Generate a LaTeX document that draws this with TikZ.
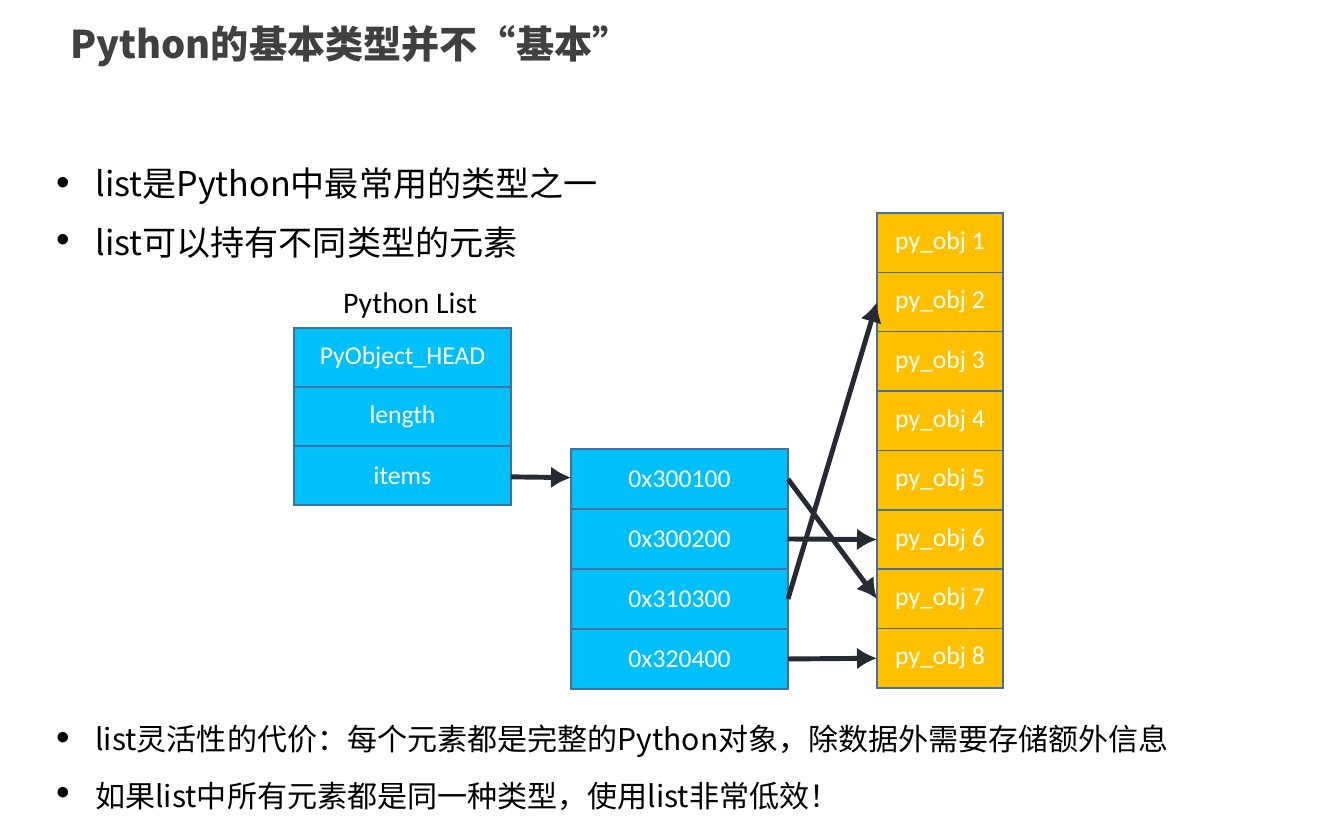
\documentclass[tikz,border=0pt]{standalone}
\usepackage{fontspec}
\setmainfont{Noto Sans CJK SC}
\newfontfamily\calfont{Carlito}
\newfontfamily\bulfont{Liberation Sans}
\usetikzlibrary{arrows.meta,positioning}
\definecolor{celeste}{HTML}{00BFF9}
\definecolor{ambar}{HTML}{FFC000}
\definecolor{borde}{HTML}{41719C}
\definecolor{oscuro}{HTML}{262B33}
\definecolor{titulo}{HTML}{404040}

\begin{document}
\begin{tikzpicture}[
        x=0.02cm, y=-0.02cm,
        node distance=0pt,
        celda/.style={draw=borde, line width=0.8pt, fill=celeste, minimum width=4.34cm, minimum height=1.18cm, inner sep=0pt, outer sep=0pt, text=white, font=\calfont\fontsize{14.6}{16}\selectfont},
        puntero/.style={celda, minimum height=1.2cm},
        objeto/.style={celda, fill=ambar, minimum width=2.52cm, minimum height=1.1875cm},
        punto/.style={anchor=center, inner sep=0pt, font=\bulfont\fontsize{22}{22}\selectfont},
        texto/.style={anchor=west, inner sep=0pt, font=\fontsize{19.4}{22}\selectfont},
        nota/.style={anchor=west, inner sep=0pt, font=\fontsize{17.1}{20}\selectfont},
        flecha/.style={-{Latex[length=4mm, width=4.4mm]}, line width=2.8pt, draw=oscuro}
    ]
        \useasboundingbox[fill=white] (0,0) rectangle (1318,823);

        \node[anchor=west, inner sep=0pt, text=titulo, font=\bfseries\fontsize{21.7}{24}\selectfont] (titulo) at (70,46) {Python的基本类型并不“基本”};

        \node[punto] (b1) at (63,186) {•};
        \node[texto] (t1) at (95,186) {list是Python中最常用的类型之一};
        \node[punto] (b2) at (63,243) {•};
        \node[texto] (t2) at (95,243) {list可以持有不同类型的元素};

        % estructura de la lista
        \node[celda, anchor=north west] (l1) at (294,328) {PyObject\_HEAD};
        \node[celda, below=of l1] (l2) {length};
        \node[celda, below=of l2] (l3) {items};
        \node[above=0.06cm of l1, xshift=0.15cm, font=\calfont\fontsize{17}{19}\selectfont] (nombre) {Python List};

        % punteros
        \node[puntero, anchor=north west] (a1) at (571,449) {0x300100};
        \node[puntero, below=of a1] (a2) {0x300200};
        \node[puntero, below=of a2] (a3) {0x310300};
        \node[puntero, below=of a3] (a4) {0x320400};

        % objetos
        \node[objeto, anchor=north west] (o1) at (877,213) {py\_obj 1};
        \foreach \i [remember=\i as \j (initially 1)] in {2,...,8}
            \node[objeto, below=of o\j] (o\i) {py\_obj \i};

        \draw[flecha] (l3) -- (a1);
        \draw[flecha] (a1.east) -- (o7.west);
        \draw[flecha] (a2.east) -- (o6.west);
        \draw[flecha] (a3.east) -- (o2.west);
        \draw[flecha] (a4.east) -- (o8.west);

        \node[punto] (b3) at (63,741) {•};
        \node[nota] (t3) at (95,741) {list灵活性的代价：每个元素都是完整的Python对象，除数据外需要存储额外信息};
        \node[punto] (b4) at (63,796) {•};
        \node[nota] (t4) at (95,796) {如果list中所有元素都是同一种类型，使用list非常低效！};
    \end{tikzpicture}
\end{document}
